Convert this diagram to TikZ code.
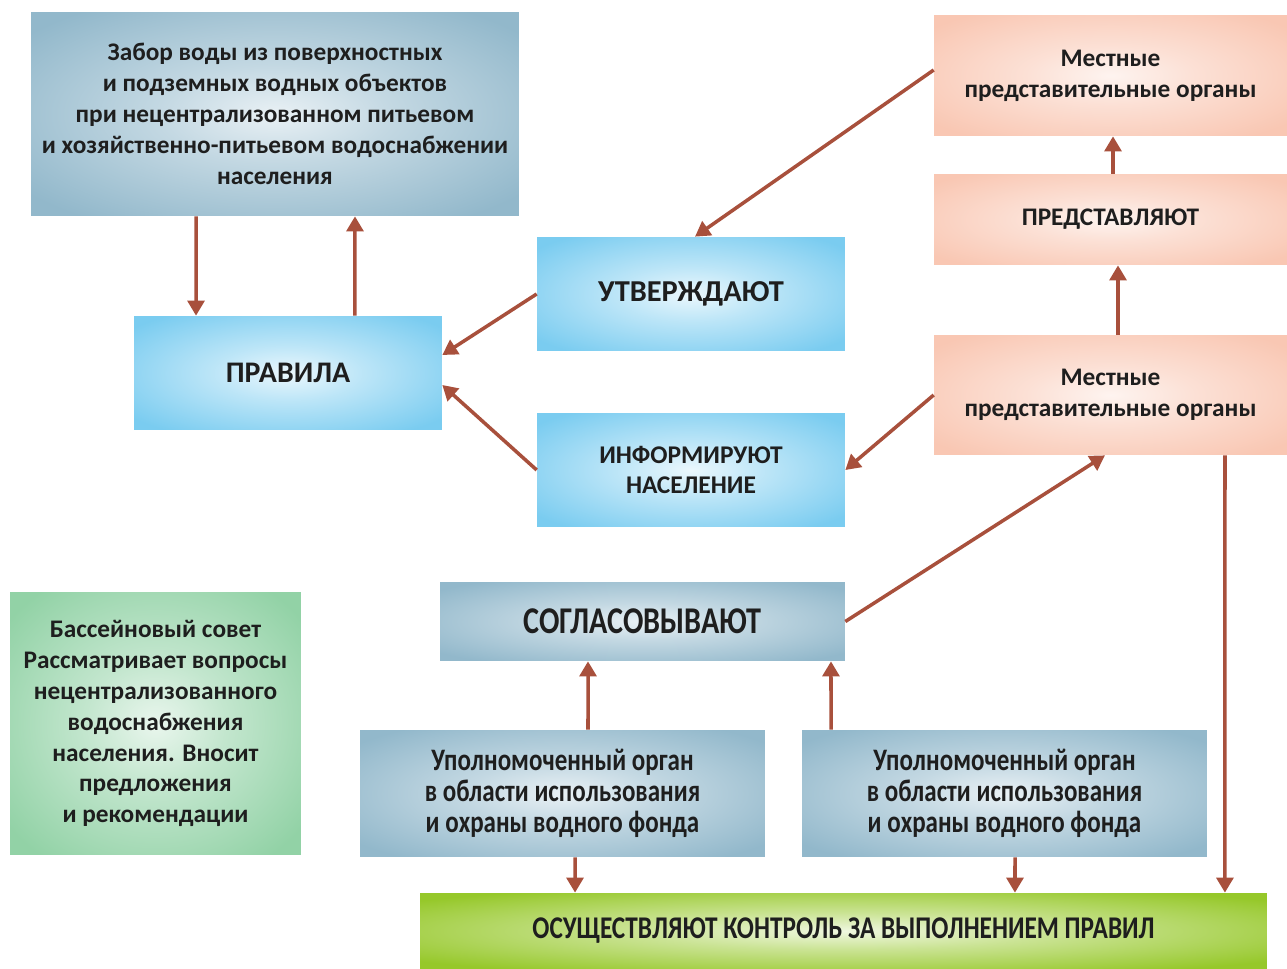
\documentclass[tikz,border=0pt]{standalone}
\usepackage{fontspec}
\setmainfont{Carlito}
\newfontfamily\narrowfont[FakeStretch=0.8]{Carlito}
\usetikzlibrary{arrows.meta}
\usetikzlibrary{positioning}

\definecolor{steelbox}{RGB}{146,184,203}
\definecolor{skybox}{RGB}{122,204,240}
\definecolor{peachbox}{RGB}{249,199,179}
\definecolor{mintbox}{RGB}{146,210,166}
\definecolor{limebox}{RGB}{150,200,42}
\definecolor{linkred}{RGB}{168,80,60}
\definecolor{textdark}{RGB}{30,30,30}

\pgfdeclareradialshading{steelglow}{\pgfpointorigin}{color(0bp)=(white!80!steelbox); color(12bp)=(white!45!steelbox); color(32bp)=(steelbox); color(50bp)=(steelbox)}
\pgfdeclareradialshading{skyglow}{\pgfpointorigin}{color(0bp)=(white!85!skybox); color(12bp)=(white!50!skybox); color(32bp)=(skybox); color(50bp)=(skybox)}
\pgfdeclareradialshading{peachglow}{\pgfpointorigin}{color(0bp)=(white!80!peachbox); color(12bp)=(white!45!peachbox); color(32bp)=(peachbox); color(50bp)=(peachbox)}
\pgfdeclareradialshading{mintglow}{\pgfpointorigin}{color(0bp)=(white!80!mintbox); color(12bp)=(white!45!mintbox); color(32bp)=(mintbox); color(50bp)=(mintbox)}
\pgfdeclareradialshading{limeglow}{\pgfpointorigin}{color(0bp)=(white!85!limebox); color(12bp)=(white!50!limebox); color(32bp)=(limebox); color(50bp)=(limebox)}

\tikzset{block/.style={rectangle, inner sep=0pt, align=center, text=textdark, font=\bfseries\fontsize{14.4}{17.6}\selectfont}}
\tikzset{steelblock/.style={block, shading=steelglow}}
\tikzset{skyblock/.style={block, shading=skyglow}}
\tikzset{peachblock/.style={block, shading=peachglow}}
\tikzset{mintblock/.style={block, shading=mintglow}}
\tikzset{limeblock/.style={block, shading=limeglow}}
\tikzset{connect/.style={draw=linkred, line width=2pt, -{Triangle[width=9.5pt,length=8.5pt]}}}

\begin{document}
\begin{tikzpicture}[x=0.02cm,y=-0.02cm]
\useasboundingbox (0,0) rectangle (1287,969);
\node[steelblock,minimum width=9.76cm,minimum height=4.08cm] (zabor) at (275,114) {Забор воды из поверхностных\\и подземных водных объектов\\при нецентрализованном питьевом\\и хозяйственно-питьевом водоснабжении\\населения};
\node[skyblock,minimum width=6.16cm,minimum height=2.28cm,font=\bfseries\fontsize{17}{20}\selectfont] (pravila) at (288,373) {ПРАВИЛА};
\node[skyblock,minimum width=6.16cm,minimum height=2.28cm,font=\bfseries\fontsize{17.3}{20}\selectfont] (utv) at (691,294) {УТВЕРЖДАЮТ};
\node[skyblock,minimum width=6.16cm,minimum height=2.28cm,font=\bfseries\fontsize{14.5}{17.6}\selectfont] (inform) at (691,470) {ИНФОРМИРУЮТ\\НАСЕЛЕНИЕ};
\node[peachblock,minimum width=7.06cm,minimum height=2.42cm] (mestA) at (1110.5,75.5) {Местные\\представительные органы};
\node[peachblock,minimum width=7.06cm,minimum height=1.82cm] (predst) at (1110.5,219.5) {ПРЕДСТАВЛЯЮТ};
\node[peachblock,minimum width=7.06cm,minimum height=2.4cm] (mestB) at (1110.5,395) {Местные\\представительные органы};
\node[mintblock,minimum width=5.82cm,minimum height=5.26cm] (sovet) at (155.5,723.5) {Бассейновый совет\\Рассматривает вопросы\\нецентрализованного\\водоснабжения\\населения. Вносит\\предложения\\и рекомендации};
\node[steelblock,minimum width=8.1cm,minimum height=1.58cm,font=\narrowfont\bfseries\fontsize{21.5}{24}\selectfont] (sogl) at (642.5,621.5) {СОГЛАСОВЫВАЮТ};
\node[steelblock,minimum width=8.1cm,minimum height=2.54cm,font=\narrowfont\bfseries\fontsize{17.8}{17.6}\selectfont] (organA) at (562.5,793.5) {Уполномоченный орган\\в области использования\\и охраны водного фонда};
\node[steelblock,minimum width=8.1cm,minimum height=2.54cm,font=\narrowfont\bfseries\fontsize{17.8}{17.6}\selectfont] (organB) at (1004.5,793.5) {Уполномоченный орган\\в области использования\\и охраны водного фонда};
\node[limeblock,minimum width=16.94cm,minimum height=1.52cm,font=\narrowfont\bfseries\fontsize{18}{20}\selectfont] (kontrol) at (843.5,931) {ОСУЩЕСТВЛЯЮТ КОНТРОЛЬ ЗА ВЫПОЛНЕНИЕМ ПРАВИЛ};

\path[connect] ([xshift=-1.58cm]zabor.south) -- ([xshift=-1.84cm]pravila.north);
\path[connect] ([xshift=1.34cm]pravila.north) -- ([xshift=1.6cm]zabor.south);
\path[connect] ([yshift=0.11cm]mestA.west) -- ([xshift=0.08cm]utv.north);
\path[connect] (utv.west) -- ([yshift=0.36cm]pravila.east);
\path[connect] (inform.west) -- ([yshift=-0.24cm]pravila.east);
\path[connect] (mestB.west) -- (inform.east);
\path[connect] (sogl.east) -- ([xshift=-0.11cm]mestB.south);
\path[connect] ([xshift=0.05cm]predst.north) -- ([xshift=0.05cm]mestA.south);
\path[connect] ([xshift=0.15cm]mestB.north) -- ([xshift=0.15cm]predst.south);
\path[connect] ([xshift=2.29cm]mestB.south) -- ([xshift=7.63cm]kontrol.north);
\path[connect] ([xshift=0.51cm]organA.north) -- ([xshift=-1.09cm]sogl.south);
\path[connect] ([xshift=-3.47cm]organB.north) -- ([xshift=3.77cm]sogl.south);
\path[connect] ([xshift=0.25cm]organA.south) -- ([xshift=-5.37cm]kontrol.north);
\path[connect] ([xshift=0.21cm]organB.south) -- ([xshift=3.43cm]kontrol.north);
\end{tikzpicture}
\end{document}
